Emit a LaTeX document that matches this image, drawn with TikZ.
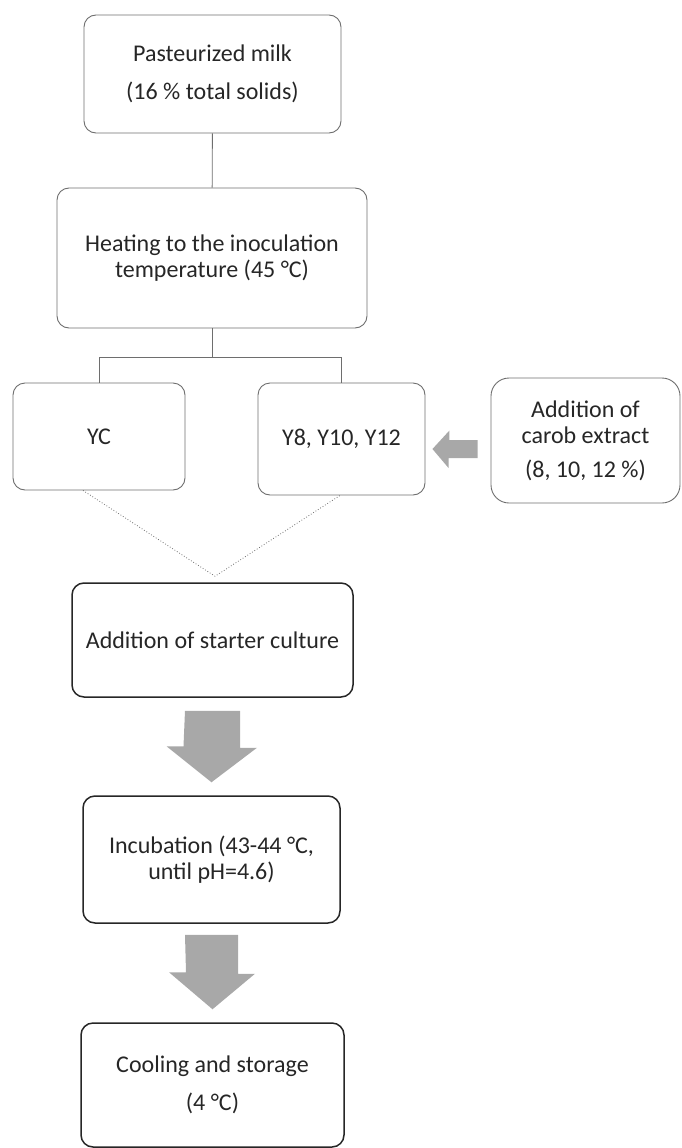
\documentclass[tikz,border=0pt]{standalone}
\usepackage{fontspec}
\setmainfont{Carlito}
\definecolor{linegray}{HTML}{6E6E6E}
\definecolor{darkline}{HTML}{262626}
\definecolor{arrowgray}{HTML}{A8A8A8}
\definecolor{inkgray}{HTML}{262626}
\begin{document}
\begin{tikzpicture}[x=1pt,y=-1pt,font=\fontsize{24}{26}\selectfont,
	phase/.style={draw=linegray,line width=0.9pt,rounded corners=12pt,align=center,text=inkgray,inner sep=0pt},
	heavy phase/.style={phase,draw=darkline,line width=1.5pt},
	link/.style={draw=linegray,line width=0.9pt},
	dots/.style={draw=linegray,line width=0.8pt,dotted},
	fat arrow/.style={fill=arrowgray}]
\useasboundingbox (0,0) rectangle (681,1148);
\node[phase,minimum width=257pt,minimum height=118pt] (milk) at (212.5,74)
	{Pasteurized milk\\[12pt](16 \% total solids)};
\node[phase,minimum width=310pt,minimum height=140pt] (heat) at (212,258)
	{Heating to the inoculation\\temperature (45 °C)};
\node[phase,minimum width=172pt,minimum height=107pt] (yc) at (99,436.5) {YC};
\node[phase,minimum width=167pt,minimum height=112pt] (yx) at (341.5,439) {Y8, Y10, Y12};
\node[phase,rounded corners=18pt,minimum width=189pt,minimum height=125pt] (carob) at (585.5,440.5)
	{Addition of\\carob extract\\[8pt](8, 10, 12 \%)};
\node[heavy phase,minimum width=281pt,minimum height=114pt] (starter) at (212.5,640)
	{Addition of starter culture};
\node[heavy phase,minimum width=257pt,minimum height=127pt] (incub) at (211.5,859.5)
	{Incubation (43-44 °C,\\until pH=4.6)};
\node[heavy phase,minimum width=263pt,minimum height=124pt] (cool) at (212.5,1085)
	{Cooling and storage\\[12pt](4 °C)};
\coordinate (meet) at ([xshift=2.5pt,yshift=6pt]starter.north);
\draw[link] (milk) -- (heat);
\draw[link] (heat.south) -- ++(0,29) coordinate (fork) -| (yc.north);
\draw[link] (fork) -| (yx.north);
\draw[dots] ([xshift=-16pt]yc.south) -- (meet) -- ([xshift=-1.5pt]yx.south);
\fill[fat arrow] ([xshift=-27.5pt,yshift=-13pt]starter.south) -- ++(55,0) -- ++(0,37) -- ++(17,0)
	-- ([yshift=13pt]incub.north) -- ++(-45,-36) -- ++(17,0) -- cycle;
\fill[fat arrow] ([xshift=-26.5pt,yshift=-11pt]incub.south) -- ++(53,0) -- ++(0,39) -- ++(17,0)
	-- ([yshift=13pt]cool.north) -- ++(-43.5,-37) -- ++(17,0) -- cycle;
\fill[fat arrow] ([xshift=-13pt,yshift=0.5pt]carob.west) -- ++(0,18) -- ++(-29,0) -- ++(0,10)
	-- ([xshift=7pt,yshift=-10pt]yx.east) -- ++(17,-18.5) -- ++(0,9.5) -- cycle;
\end{tikzpicture}
\end{document}
